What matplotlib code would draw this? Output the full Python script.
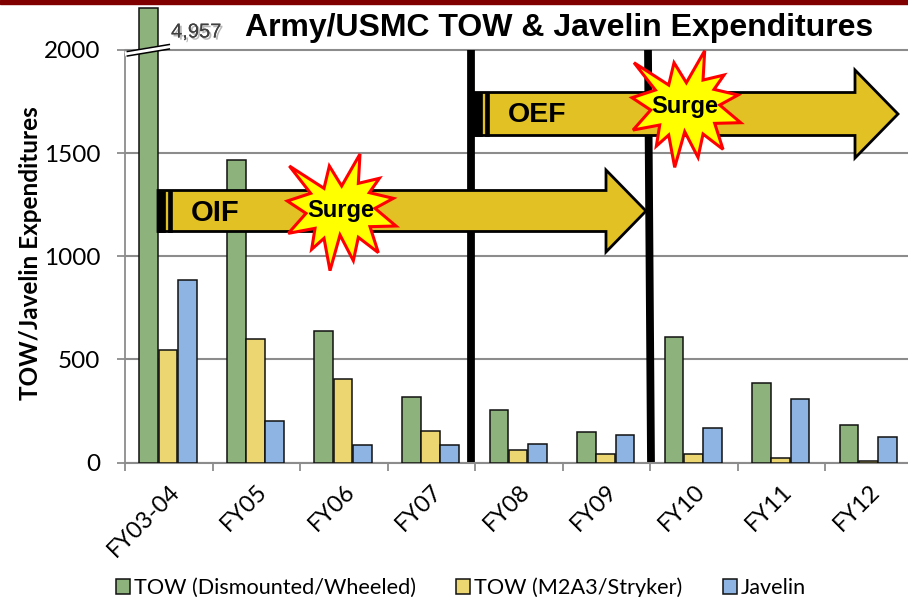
import matplotlib
matplotlib.use("Agg")
import matplotlib.pyplot as plt
import numpy as np
from matplotlib.patches import Polygon, Rectangle
import matplotlib.patheffects as pe

W, H = 908, 597
categories = ["FY03-04", "FY05", "FY06", "FY07", "FY08", "FY09", "FY10", "FY11", "FY12"]
tow_dismounted = [4957, 1465, 640, 320, 255, 150, 610, 385, 180]
tow_m2a3 = [545, 600, 405, 155, 60, 40, 40, 20, 5]
javelin = [885, 200, 85, 85, 90, 135, 165, 310, 125]
series_names = ["TOW (Dismounted/Wheeled)", "TOW (M2A3/Stryker)", "Javelin"]
y_ticks = [0, 500, 1000, 1500, 2000]
break_cap = 2204  # axis is broken: the tallest bar is drawn to this height

colors = ["#8DB27B", "#EBD671", "#8DB4E2"]
sans = ["Lato", "DejaVu Sans"]
arial = ["Liberation Sans", "DejaVu Sans"]

fig = plt.figure(figsize=(W / 100, H / 100), dpi=100, facecolor="white")
y_top = 2300
px_per = (462.5 - 50) / 2000
top_px = 462.5 - y_top * px_per
ax = fig.add_axes([125 / W, 1 - 462.5 / H, 788 / W, (462.5 - top_px) / H])
ax.set_xlim(-0.5, 8.5)
ax.set_ylim(0, y_top)
ax.patch.set_alpha(0)

x = np.arange(len(categories))
bw = 0.22
for i, (vals, c) in enumerate(zip([tow_dismounted, tow_m2a3, javelin], colors)):
    ax.bar(x + (i - 1) * bw - 0.01, np.minimum(vals, break_cap), bw * 0.97, color=c, edgecolor="#111111",
           linewidth=1.1, zorder=3, label=series_names[i])

GRAY = "#8C8C8C"
ax.set_yticks(y_ticks)
ax.yaxis.grid(True, color=GRAY, linewidth=1.5, zorder=1)
ax.set_axisbelow(True)
for s in ["top", "right"]:
    ax.spines[s].set_visible(False)
ax.spines["left"].set_bounds(0, 2000)
ax.spines["left"].set_color(GRAY)
ax.spines["left"].set_linewidth(1.3)
ax.spines["bottom"].set_color(GRAY)
ax.spines["bottom"].set_linewidth(1.5)
ax.tick_params(axis="y", length=5.8, width=1.3, color=GRAY, labelsize=17.5, pad=12)
ax.tick_params(axis="x", length=5.8, width=1.3, color=GRAY)
ax.set_xticks(np.arange(-0.5, 8.5, 1))
ax.set_xticklabels([])
ax.set_xticks(x, minor=True)
ax.set_xticklabels(categories, minor=True, rotation=45, ha="right", rotation_mode="anchor",
                   fontsize=17, family=sans)
ax.tick_params(axis="x", which="minor", length=0, pad=13)
for t in ax.get_yticklabels():
    t.set_family(sans)

ov = fig.add_axes([0, 0, 1, 1], facecolor="none")
ov.set_xlim(0, W)
ov.set_ylim(H, 0)
ov.axis("off")

ov.add_patch(Rectangle((0, 0), W, 3.5, color="#800000", zorder=1))

ov.plot([471, 471], [50, 462], color="black", lw=5.6, solid_capstyle="butt", zorder=2)
ov.plot([648, 651], [50, 462], color="black", lw=5.6, solid_capstyle="butt", zorder=2)

GOLD = "#E2C125"
def arrow(x0, x1, xt, yc, hs, hh):
    pts = [(x0, yc - hs), (x1, yc - hs), (x1, yc - hh), (xt, yc), (x1, yc + hh), (x1, yc + hs), (x0, yc + hs)]
    ov.add_patch(Polygon(pts, closed=True, facecolor=GOLD, edgecolor="black", linewidth=2, joinstyle="miter", zorder=3))
    ov.add_patch(Rectangle((x0, yc - hs), 7, 2 * hs, facecolor="black", edgecolor="black", lw=0.5, zorder=4))
    ov.add_patch(Rectangle((x0 + 10, yc - hs), 4, 2 * hs, facecolor="black", edgecolor="black", lw=0.5, zorder=4))

arrow(158, 606, 646, 211, 20.5, 41)
arrow(475, 855, 898, 114, 21.5, 44)

star = np.array([(568, 498), (672, 565), (688, 498), (725, 558), (780, 462), (775, 550), (838, 535), (808, 578),
                 (880, 595), (825, 625), (888, 678), (810, 680), (835, 758), (775, 712), (760, 782), (720, 705),
                 (690, 812), (672, 715), (635, 748), (645, 685), (565, 700), (618, 640), (562, 603), (632, 580)],
                dtype=float) / 3 + [100, 0]
for off in [(0, 0), (344.7, -103.3)]:
    ov.add_patch(Polygon(star + off, closed=True, facecolor="#FFFF00", edgecolor="#FF0000", linewidth=2.2,
                         joinstyle="miter", zorder=5))

ov.text(341, 211, "Surge", fontsize=17, fontweight="bold", family=arial, ha="center", va="center", zorder=6)
ov.text(685, 107, "Surge", fontsize=17, fontweight="bold", family=arial, ha="center", va="center", zorder=6)
ov.text(215, 213, "OIF", fontsize=21, fontweight="bold", family=arial, ha="center", va="center", zorder=6)
ov.text(537, 115, "OEF", fontsize=20.5, fontweight="bold", family=arial, ha="center", va="center", zorder=6)

for y0, y1, col, lw in [(53.5, 46.5, "white", 3.5), (56, 49, "black", 1.1), (51.5, 44.5, "black", 1.1)]:
    ov.plot([127.3, 169.3], [y0, y1], color=col, lw=lw, zorder=4)

ov.text(171, 32, "4,957", fontsize=14.5, family=arial, color="#404040", ha="left", va="center", zorder=6,
        path_effects=[pe.withSimplePatchShadow(offset=(1.5, -1.5), alpha=0.3), pe.Normal()])

ov.text(559, 28, "Army/USMC TOW & Javelin Expenditures", fontsize=23, fontweight="bold", family=arial,
        ha="center", va="center", zorder=6)
ov.text(31, 253, "TOW/Javelin Expenditures", fontsize=17.5, fontweight="bold", family=sans, rotation=90,
        ha="center", va="center", zorder=6)

handles = [Rectangle((0, 0), 1, 1, facecolor=c, edgecolor="#111111", linewidth=1.1) for c in colors]
fig.legend(handles, series_names, loc="lower left", bbox_to_anchor=(101 / W, -0.027), ncol=3, frameon=False,
           prop={"family": sans, "size": 15.6}, handlelength=0.65, handleheight=0.65, handletextpad=0.18,
           columnspacing=1.85, borderpad=0.2)

fig.savefig("out.png", dpi=100, facecolor="white")
